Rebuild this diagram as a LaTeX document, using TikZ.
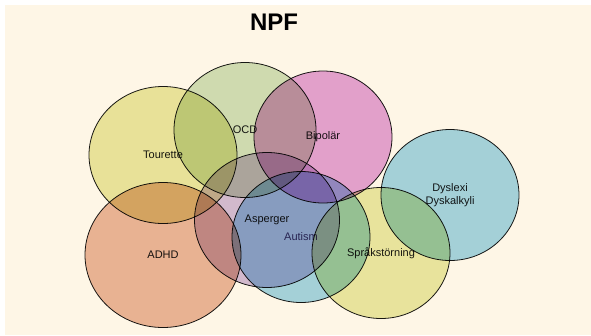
\documentclass[tikz,border=0pt]{standalone}
\usepackage{fontspec}
\setmainfont{Liberation Sans}
\usetikzlibrary{shapes.geometric}

\definecolor{cream}{HTML}{FEF6E6}
\definecolor{touretteC}{HTML}{E9EAA9}
\definecolor{ocdC}{HTML}{D0E2C3}
\definecolor{bipolarC}{HTML}{E3A6E0}
\definecolor{dyslexiC}{HTML}{A5D8EF}
\definecolor{adhdC}{HTML}{E9B9A2}
\definecolor{aspergerC}{HTML}{D3C0E3}
\definecolor{autismC}{HTML}{A5D8EF}
\definecolor{sprakC}{HTML}{E9ECAE}
\definecolor{autismT}{HTML}{4B3C6E}

\tikzset{
  disorder/.style={ellipse, draw=black!90, line width=0.8pt, inner sep=0pt,
    align=center, text=black!90, font=\fontsize{11}{13}\selectfont},
}

\begin{document}
\begin{tikzpicture}[x=1pt,y=-1pt]
    \useasboundingbox (0,0) rectangle (591,335);
    % Background
    \fill [white] (0,0) rectangle (591,335);
    \fill [cream] (5,5) rectangle (591,335);
    \node [font=\bfseries\fontsize{24}{28}\selectfont] (title) at (274,22) {NPF};

    % Circles
    \begin{scope}[blend mode=multiply]
        \node [disorder, fill=touretteC, minimum width=148pt, minimum height=137pt] (tourette) at (163,155) {Tourette};
        \node [disorder, fill=ocdC, minimum width=142pt, minimum height=135pt] (ocd) at (245,130) {OCD};
        \node [disorder, fill=bipolarC, minimum width=138pt, minimum height=132pt] (bipolar) at (323,137) {Bipolär};
        \node [disorder, fill=dyslexiC, minimum width=138pt, minimum height=131pt] (dyslexi) at (450,195) {Dyslexi\\Dyskalkyli};
        \node [disorder, fill=adhdC, minimum width=156pt, minimum height=145pt] (adhd) at (163,255) {ADHD};
        \node [disorder, fill=autismC, minimum width=138pt, minimum height=131pt, text=autismT] (autism) at (301,237) {Autism};
        \node [disorder, fill=aspergerC, minimum width=145pt, minimum height=135pt] (asperger) at (267,220) {Asperger};
        \node [disorder, fill=sprakC, minimum width=138pt, minimum height=131pt] (sprak) at (381,253) {Språkstörning};
    \end{scope}
\end{tikzpicture}
\end{document}
